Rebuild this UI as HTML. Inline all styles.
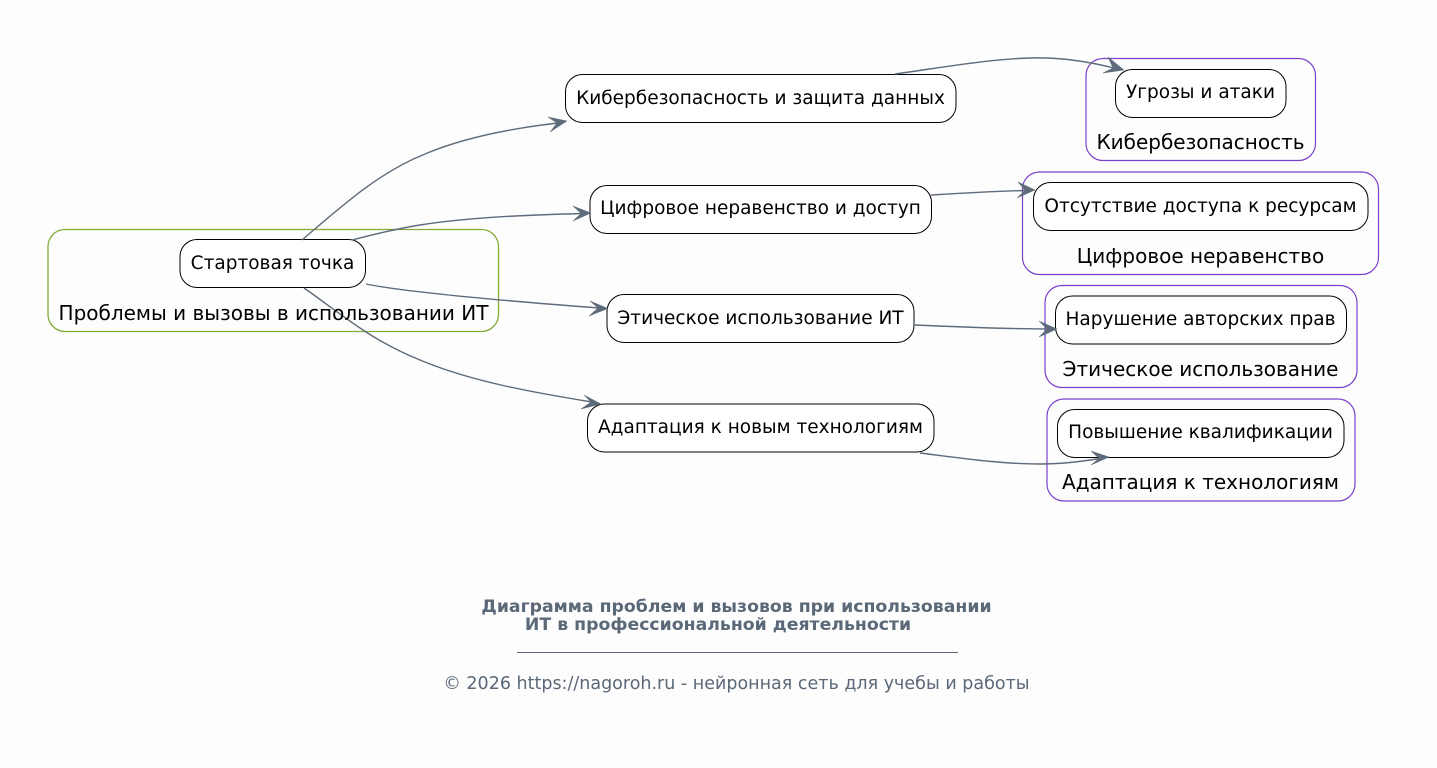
<!DOCTYPE html>
<html><head><meta charset="utf-8">
<style>
html,body{margin:0;padding:0;background:#fdfdfd;width:1437px;height:768px;overflow:hidden}
svg{display:block}
text{font-family:"DejaVu Sans",sans-serif;fill:#000}
.c{fill:none;stroke:#7a40cc;stroke-width:1.2}
.n{fill:#fff;stroke:#000;stroke-width:1}
.e{fill:none;stroke:#5d6b7a;stroke-width:1.4}
.a{fill:#5d6b7a;stroke:#5d6b7a;stroke-width:.5;stroke-linejoin:miter}
.t{font-size:18.5px;text-anchor:middle}
.l{font-size:20px;text-anchor:middle}
.f{fill:#5a6878;text-anchor:middle}
</style></head><body>
<svg width="1437" height="768" viewBox="0 0 1437 768" xmlns="http://www.w3.org/2000/svg">
<rect width="1437" height="768" fill="#fdfdfd"/>
<rect x="48" y="229.500" width="450.500" height="102" rx="17" fill="none" stroke="#82ab38" stroke-width="1.300"/>
<rect class="c" x="1086" y="58.500" width="229.500" height="102" rx="17"/>
<rect class="c" x="1022.500" y="172" width="356" height="102.500" rx="17"/>
<rect class="c" x="1045" y="285.500" width="312" height="102" rx="17"/>
<rect class="c" x="1047" y="399" width="308" height="102" rx="17"/>
<rect class="n" x="180" y="239.500" width="185.500" height="48" rx="17"/>
<rect class="n" x="565.500" y="74.500" width="390.500" height="48" rx="17"/>
<rect class="n" x="590" y="185.500" width="341.500" height="48" rx="17"/>
<rect class="n" x="607" y="294.500" width="307" height="48" rx="17"/>
<rect class="n" x="587.500" y="404" width="346.500" height="48" rx="17"/>
<rect class="n" x="1115.500" y="69.500" width="170.500" height="48" rx="17"/>
<rect class="n" x="1033.500" y="182.500" width="334.500" height="48" rx="17"/>
<rect class="n" x="1055.500" y="296" width="291" height="48" rx="17"/>
<rect class="n" x="1057.500" y="409.500" width="286.500" height="48" rx="17"/>
<path class="e" d="M302 240C345 203 380 172 425 154C465 137 515 128 558 123"/>
<path class="e" d="M352 240C375 234 395 229 420 225C470 217 530 215 582 213.500"/>
<path class="e" d="M366 284C410 293 520 302 599 308"/>
<path class="e" d="M304 288C340 313 370 340 420 360C470 381 530 392 592 402"/>
<path class="e" d="M895 74C945 67 990 59 1030 58C1060 57 1090 62 1114 68"/>
<path class="e" d="M931 195C965 193 1000 191 1026 190.500"/>
<path class="e" d="M914 325C960 327 1010 329 1048 329"/>
<path class="e" d="M920 453C960 458 1000 464 1040 464C1065 464 1085 461 1100 458.500"/>
<path class="a" d="M567 121L548 117L557 123L550 132Z"/>
<path class="a" d="M591 213L573 206L581 213.500L573 221Z"/>
<path class="a" d="M608 308.500L590 301L598 308L589 316Z"/>
<path class="a" d="M601 404L584 395L591 402L581 409Z"/>
<path class="a" d="M1124 70L1108 57L1113 68L1103 73Z"/>
<path class="a" d="M1035 190L1018 182L1025 190.500L1017 198Z"/>
<path class="a" d="M1057 329L1039 321L1047 329L1039 337Z"/>
<path class="a" d="M1109 457L1091 451L1099 458.500L1091 465Z"/>
<text class="t" x="272.500" y="269">Стартовая точка</text>
<text class="t" x="760.500" y="104">Кибербезопасность и защита данных</text>
<text class="t" x="760.500" y="214">Цифровое неравенство и доступ</text>
<text class="t" x="760.500" y="324">Этическое использование ИТ</text>
<text class="t" x="760.500" y="433">Адаптация к новым технологиям</text>
<text class="t" x="1200.500" y="98">Угрозы и атаки</text>
<text class="t" x="1200.500" y="212">Отсутствие доступа к ресурсам</text>
<text class="t" x="1200.500" y="325">Нарушение авторских прав</text>
<text class="t" x="1200.500" y="438">Повышение квалификации</text>
<text class="l" x="273.500" y="320">Проблемы и вызовы в использовании ИТ</text>
<text class="l" x="1200.500" y="149">Кибербезопасность</text>
<text class="l" x="1200.500" y="263">Цифровое неравенство</text>
<text class="l" x="1200.500" y="376">Этическое использование</text>
<text class="l" x="1200.500" y="489">Адаптация к технологиям</text>
<text class="f" x="736.500" y="612" font-size="17.300" font-weight="700">Диаграмма проблем и вызовов при использовании</text>
<text class="f" x="718" y="630" font-size="17.300" font-weight="700">ИТ в профессиональной деятельности</text>
<line x1="517" y1="652.500" x2="958" y2="652.500" stroke="#5a6878" stroke-width="1"/>
<text class="f" x="736.500" y="689" font-size="17.500">© 2026 https://nagoroh.ru - нейронная сеть для учебы и работы</text>
</svg>
</body></html>
